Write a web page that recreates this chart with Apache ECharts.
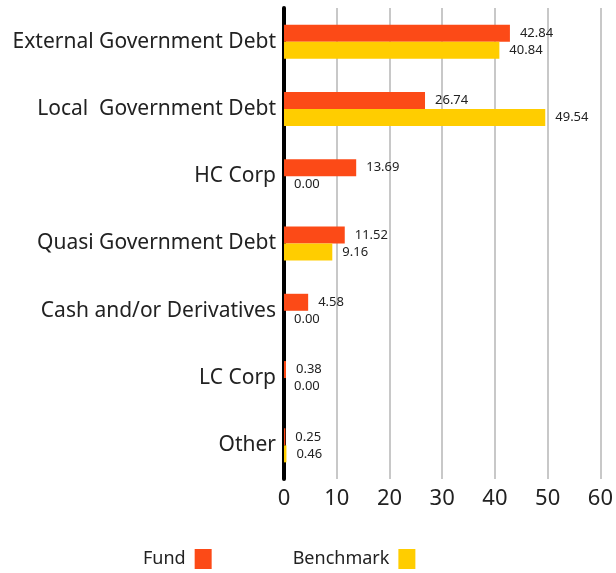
<!DOCTYPE html>
<html>
<head>
<meta charset="utf-8" />
<script src="https://cdn.jsdelivr.net/npm/echarts@6/dist/echarts.min.js"></script>
<style>
  html, body { margin: 0; padding: 0; background: #fff; }
  #chart { width: 616px; height: 573px; }
</style>
</head>
<body>
<div id="chart"></div>
<script>
// 分类与数据
const categories = [
  "External Government Debt",
  "Local  Government Debt",
  "HC Corp",
  "Quasi Government Debt",
  "Cash and/or Derivatives",
  "LC Corp",
  "Other",
];
const fundValues = [42.84, 26.74, 13.69, 11.52, 4.58, 0.38, 0.25];
const benchmarkValues = [40.84, 49.54, 0.0, 9.16, 0.0, 0.0, 0.46];
const seriesNames = ["Fund", "Benchmark"];

const fontFamily = "'Noto Sans', 'Open Sans', sans-serif";

const myChart = echarts.init(document.getElementById("chart"));

const labelStyle = {
  show: true,
  position: "right",
  distance: 10,
  color: "#222",
  fontSize: 13,
  fontFamily: fontFamily,
  formatter: (p) => p.value.toFixed(2),
};

const option = {
  animation: false,
  grid: {
    left: 284,
    right: 12,
    top: 8,
    bottom: 94,
  },
  legend: {
    bottom: -1,
    left: 138,
    align: "right",
    itemWidth: 17,
    itemHeight: 20,
    itemGap: 81,
    icon: "rect",
    textStyle: {
      color: "#222",
      fontSize: 18,
      fontFamily: fontFamily,
      padding: [0, 4, 0, 0],
    },
    data: seriesNames,
  },
  xAxis: {
    type: "value",
    min: 0,
    max: 60,
    interval: 10,
    axisLine: { show: false },
    axisTick: { show: false },
    axisLabel: {
      color: "#222",
      fontSize: 22,
      margin: 9,
      fontFamily: fontFamily,
    },
    splitLine: {
      lineStyle: { color: "#c8c8c8", width: 2 },
    },
  },
  yAxis: {
    type: "category",
    inverse: true,
    data: categories,
    axisLine: {
      show: true,
      lineStyle: { color: "#000", width: 4 },
    },
    axisTick: { show: false },
    axisLabel: {
      color: "#222",
      fontSize: 21,
      margin: 8,
      fontFamily: fontFamily,
    },
  },
  series: [
    {
      name: seriesNames[0],
      type: "bar",
      data: fundValues,
      barWidth: 17,
      barGap: "0%",
      itemStyle: { color: "#fc4a17" },
      label: labelStyle,
      z: 1,
    },
    {
      name: seriesNames[1],
      type: "bar",
      data: benchmarkValues,
      barWidth: 17,
      barGap: "0%",
      itemStyle: { color: "#ffcd00" },
      label: labelStyle,
      z: 1,
    },
  ],
};

myChart.setOption(option, true);
</script>
</body>
</html>
